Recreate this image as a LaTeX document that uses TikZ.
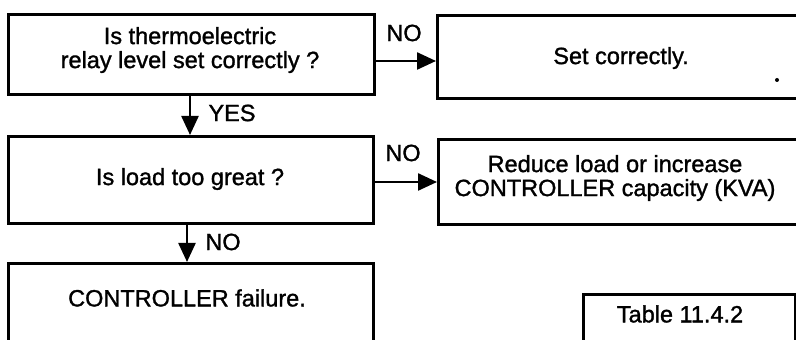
\documentclass[tikz,border=0pt]{standalone}
\usepackage{fontspec}
\setmainfont[FakeBold=1.3]{Liberation Sans}
\usetikzlibrary{arrows.meta}
\begin{document}
\begin{tikzpicture}[x=0.5pt,y=-0.5pt,
  box/.style={draw, line width=1.45pt, inner sep=0pt, anchor=north west},
  txt/.style={inner sep=0pt, align=center, font=\fontsize{11.75pt}{12pt}\selectfont},
  arr/.style={-{Triangle[length=9.5pt,width=8.5pt]}, line width=1.2pt}]
  \useasboundingbox (0,0) rectangle (796,340);
  \clip (0,0) rectangle (796,340);
  \fill[white] (0,0) rectangle (796,340);

  % boxes
  \node[box, minimum width=183pt,   minimum height=40pt]   (q1) at (7,13) {};
  \node[box, minimum width=200pt,   minimum height=41.5pt] (s1) at (436,14) {};
  \node[box, minimum width=182.5pt, minimum height=43.5pt] (q2) at (7,135) {};
  \node[box, minimum width=200pt,   minimum height=42.5pt] (s2) at (437,138) {};
  \node[box, minimum width=182.5pt, minimum height=60pt]   (f1) at (7,262) {};
  \node[box, minimum width=106pt,   minimum height=50pt]   (tb) at (582,293) {};

  % box texts
  \node[txt] (t1) at (190,50)  {Is thermoelectric\\relay level set correctly ?};
  \node[txt] (t2) at (621,58)  {Set correctly.};
  \node[txt] (t3) at (190,179) {Is load too great ?};
  \node[txt] (t4) at (615,178) {Reduce load or increase\\CONTROLLER capacity (KVA)};
  \node[txt] (t5) at (187,298) {CONTROLLER failure.};
  \node[txt] (t6) at (680,314) {Table 11.4.2};

  % speck inside the first answer box
  \fill (777,80) circle (1pt);

  % connector levels
  \coordinate (ya) at (0,61);
  \coordinate (yb) at (0,182);
  \coordinate (xa) at (190,0);
  \coordinate (xb) at (187,0);

  % connectors
  \draw[arr] (q1.east |- ya) -- (s1.west |- ya);
  \draw[arr] (q2.east |- yb) -- (s2.west |- yb);
  \draw[arr] (q1.south -| xa) -- (q2.north -| xa);
  \draw[arr] (q2.south -| xb) -- (f1.north -| xb);

  % connector labels
  \node[txt] (no1) at (404,33)  {NO};
  \node[txt] (yes) at (232,113) {YES};
  \node[txt] (no2) at (403,153) {NO};
  \node[txt] (no3) at (223,242) {NO};
\end{tikzpicture}
\end{document}
